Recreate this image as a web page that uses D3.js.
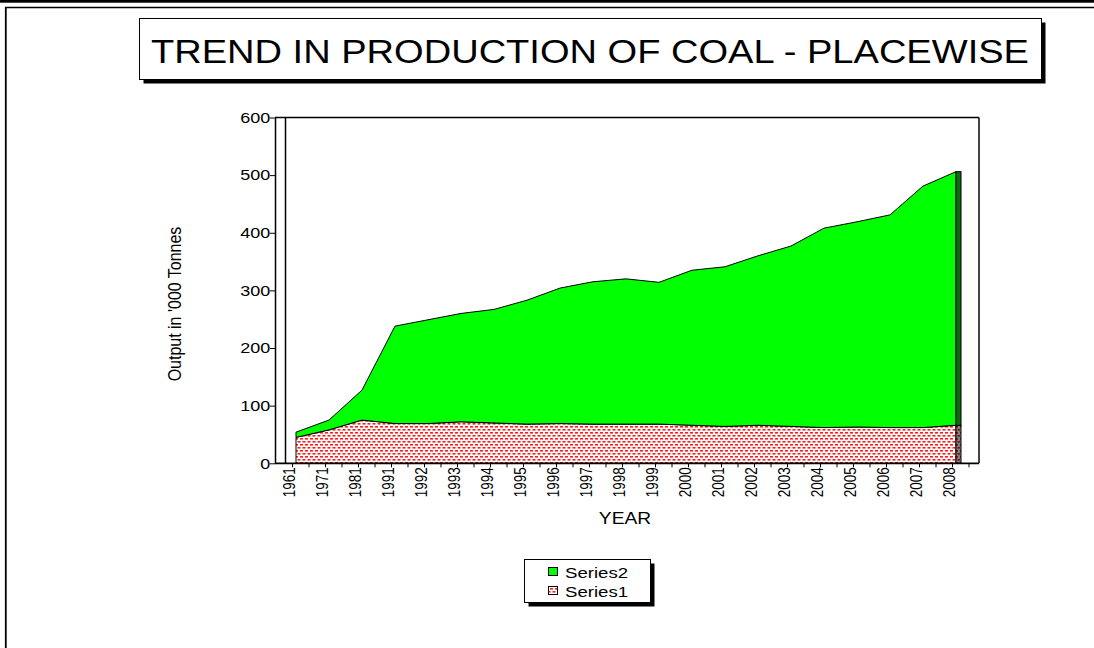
<!DOCTYPE html>
<html>
<head>
<meta charset="utf-8">
<script src="https://cdn.jsdelivr.net/npm/d3@7"></script>
<style>
  body { margin: 0; background: #fff; }
  text { font-family: "Liberation Sans", Arial, sans-serif; fill: #000; }
</style>
</head>
<body>
<div id="chart"></div>
<script>
// chart data
var years = ["1961", "1971", "1981", "1991", "1992", "1993", "1994", "1995", "1996", "1997",
  "1998", "1999", "2000", "2001", "2002", "2003", "2004", "2005", "2006", "2007", "2008"];
var series1 = [45, 58, 75, 69, 69, 72, 70, 68, 69, 68, 68, 68, 66, 64, 66, 64, 62, 63, 62, 62, 66];
var series2 = [9, 17, 52, 169, 180, 188, 197, 215, 235, 247, 252, 246, 269, 277, 294, 313, 346, 356, 369, 419, 440];
var seriesNames = ["Series1", "Series2"];
var yTicks = [0, 100, 200, 300, 400, 500, 600];
var titleText = "TREND IN PRODUCTION OF COAL - PLACEWISE";
var yAxisTitle = "Output in '000 Tonnes";
var xAxisTitle = "YEAR";

var svgWidth = 1094;
var svgHeight = 648;
// the original picture is stretched sideways, so the glyphs are too
var sx = 1.2;

var svg = d3.select("#chart")
  .append("svg")
  .attr("width", svgWidth)
  .attr("height", svgHeight);

var defs = svg.append("defs");
var dots = defs.append("pattern")
  .attr("id", "dots")
  .attr("patternUnits", "userSpaceOnUse")
  .attr("width", 5)
  .attr("height", 6);
dots.append("rect").attr("width", 5).attr("height", 6).attr("fill", "#fff");
dots.append("rect").attr("x", 0).attr("y", 0).attr("width", 3).attr("height", 1.6).attr("fill", "#ff1a1a");
dots.append("rect").attr("x", 2.5).attr("y", 3).attr("width", 3).attr("height", 1.6).attr("fill", "#ff1a1a");
dots.append("rect").attr("x", -2.5).attr("y", 3).attr("width", 3).attr("height", 1.6).attr("fill", "#ff1a1a");

var darkDots = defs.append("pattern")
  .attr("id", "darkdots")
  .attr("patternUnits", "userSpaceOnUse")
  .attr("width", 5)
  .attr("height", 6);
darkDots.append("rect").attr("width", 5).attr("height", 6).attr("fill", "#808080");
darkDots.append("rect").attr("x", 0).attr("y", 0).attr("width", 3).attr("height", 1.6).attr("fill", "#7a1010");
darkDots.append("rect").attr("x", 2.5).attr("y", 3).attr("width", 3).attr("height", 1.6).attr("fill", "#7a1010");

// helper for sideways-stretched text
function stretchedText(parent, x, y, str, size, anchor, rotate) {
  var g = parent.append("g")
    .attr("transform", `translate(${x}, ${y}) scale(${sx}, 1)` + (rotate ? ` rotate(${rotate})` : ""));
  return g.append("text")
    .attr("text-anchor", anchor || "start")
    .style("font-size", size + "px")
    .text(str);
}

// outer frame
svg.append("rect").attr("x", 0).attr("y", 0).attr("width", svgWidth).attr("height", 2.7).attr("fill", "#000");
svg.append("line").attr("x1", 5).attr("x2", svgWidth).attr("y1", 7.5).attr("y2", 7.5)
  .attr("stroke", "#000").attr("stroke-width", 1.3);
svg.append("line").attr("x1", 5.8).attr("x2", 5.8).attr("y1", 7).attr("y2", svgHeight)
  .attr("stroke", "#000").attr("stroke-width", 1.8);

// title box
svg.append("rect").attr("x", 143.5).attr("y", 22.5).attr("width", 902).attr("height", 61).attr("fill", "#000");
svg.append("rect").attr("x", 139.5).attr("y", 18.5).attr("width", 902).attr("height", 61)
  .attr("fill", "#fff").attr("stroke", "#000").attr("stroke-width", 1);
svg.append("text")
  .attr("x", 590)
  .attr("y", 63.3)
  .attr("text-anchor", "middle")
  .attr("textLength", 878)
  .attr("lengthAdjust", "spacingAndGlyphs")
  .style("font-size", "33.5px")
  .text(titleText);

// scales
var frameLeft = 275, wallLeft = 285.5, frameRight = 979;
var depth = 7;
var x = d3.scalePoint().domain(years).range([289, 949]);
var y = d3.scaleLinear().domain([0, 600]).range([463.3, 117.5]);

// plot frame
var chartGroup = svg.append("g");
chartGroup.append("line").attr("x1", frameLeft).attr("x2", frameRight).attr("y1", y(600)).attr("y2", y(600))
  .attr("stroke", "#000").attr("stroke-width", 1.3);
chartGroup.append("line").attr("x1", frameRight).attr("x2", frameRight).attr("y1", y(600)).attr("y2", y(0))
  .attr("stroke", "#222").attr("stroke-width", 1.7);
chartGroup.append("line").attr("x1", wallLeft).attr("x2", wallLeft).attr("y1", y(600)).attr("y2", y(0))
  .attr("stroke", "#000").attr("stroke-width", 1.5);

// stacked areas
var table = years.map(function(d, i) {
  return { year: d, Series1: series1[i], Series2: series2[i] };
});
var stacked = d3.stack().keys(seriesNames)(table);

var area = d3.area()
  .x(d => x(d.data.year) + depth)
  .y0(d => y(d[0]))
  .y1(d => y(d[1]));

chartGroup.selectAll(".area")
  .data(stacked)
  .enter()
  .append("path")
  .attr("class", "area")
  .attr("d", area)
  .attr("fill", (d, i) => i === 0 ? "url(#dots)" : "#00ff00")
  .attr("stroke", "#000")
  .attr("stroke-width", 1)
  .attr("stroke-linejoin", "round");

// end faces of the 3D slab
var last = stacked[0].length - 1;
var xEnd = x(years[last]) + depth;
chartGroup.selectAll(".endface")
  .data(stacked)
  .enter()
  .append("rect")
  .attr("class", "endface")
  .attr("x", xEnd)
  .attr("y", d => y(d[last][1]))
  .attr("width", 5)
  .attr("height", d => y(d[last][0]) - y(d[last][1]))
  .attr("fill", (d, i) => i === 0 ? "url(#darkdots)" : "#0a6e0a")
  .attr("stroke", "#000")
  .attr("stroke-width", 1);

// y axis
var yAxis = d3.axisLeft(y).tickValues(yTicks).tickSize(5).tickSizeOuter(0);
var yAxisG = chartGroup.append("g")
  .attr("transform", `translate(${frameLeft}, 0)`)
  .call(yAxis);
yAxisG.select(".domain").attr("stroke-width", 1.5);
yAxisG.selectAll("text")
  .attr("x", -4)
  .attr("transform", `scale(${sx}, 1)`)
  .style("font-size", "15px")
  .style("font-family", "'Liberation Sans', Arial, sans-serif");

// x axis: half-category tick marks
var xIdx = d3.scaleLinear().domain([0, years.length - 1]).range([x(years[0]), x(years[last])]);
var xTickAxis = d3.axisBottom(xIdx)
  .tickValues(d3.range(0, years.length, 0.5))
  .tickSize(4)
  .tickSizeOuter(0)
  .tickFormat("");
var xTickG = chartGroup.append("g")
  .attr("transform", `translate(3, ${y(0)})`)
  .call(xTickAxis);
xTickG.select(".domain").remove();

// x axis line + labels
var xAxis = d3.axisBottom(x).tickSize(0).tickSizeOuter(0);
var xAxisG = chartGroup.append("g")
  .attr("transform", `translate(0, ${y(0)})`)
  .call(xAxis);
xAxisG.select(".domain")
  .attr("d", `M${frameLeft - x.range()[0] + x.range()[0]},0H${frameRight}`)
  .attr("stroke-width", 1.8);
xAxisG.select(".domain").attr("d", `M${frameLeft},0H${frameRight}`);
xAxisG.selectAll("text")
  .attr("x", 0)
  .attr("y", 0)
  .attr("dy", "0.35em")
  .attr("transform", `translate(0, 4) scale(${sx}, 1) rotate(-90)`)
  .style("text-anchor", "end")
  .style("font-size", "13.5px")
  .style("font-family", "'Liberation Sans', Arial, sans-serif");

// axis titles
stretchedText(svg, 181, 304, yAxisTitle, 16, "middle", -90);
stretchedText(svg, 625, 524, xAxisTitle, 16, "middle");

// legend
var legend = svg.append("g");
legend.append("rect").attr("x", 528.5).attr("y", 563.5).attr("width", 126).attr("height", 43).attr("fill", "#000");
legend.append("rect").attr("x", 524.5).attr("y", 559.5).attr("width", 126).attr("height", 43)
  .attr("fill", "#fff").attr("stroke", "#000").attr("stroke-width", 1);

var legendItems = seriesNames.slice().reverse();
legendItems.forEach(function(name, i) {
  var top = 567 + i * 19;
  legend.append("rect")
    .attr("x", 548.5).attr("y", top + 0.5)
    .attr("width", 9).attr("height", 8)
    .attr("fill", name === "Series2" ? "#00ff00" : "url(#dots)")
    .attr("stroke", "#000").attr("stroke-width", 1);
  stretchedText(legend, 565, top + 10.5, name, 15.5, "start");
});
</script>
</body>
</html>
